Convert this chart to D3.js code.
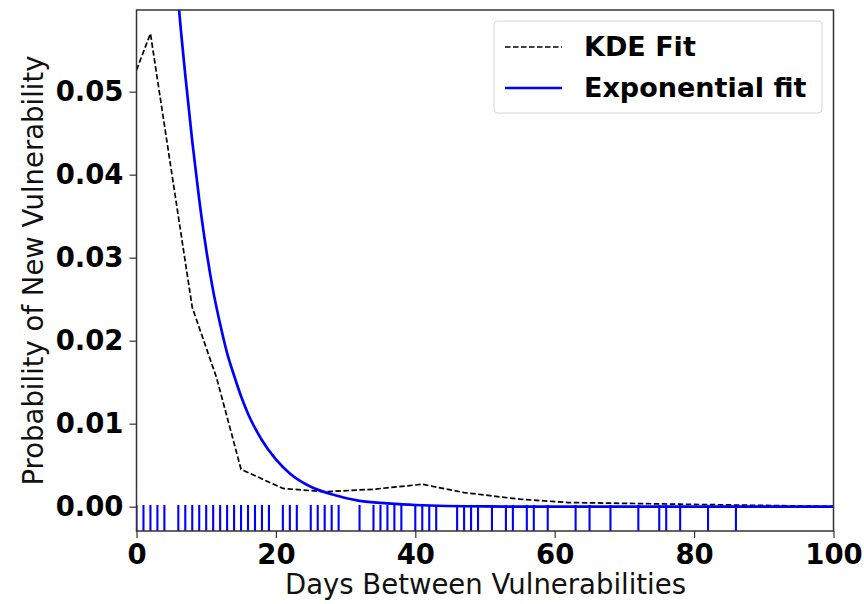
<!DOCTYPE html>
<html>
<head>
<meta charset="utf-8">
<script src="https://cdn.jsdelivr.net/npm/d3@7"></script>
<style>
  html, body { margin: 0; padding: 0; background: #fff; }
  svg { display: block; }
  text { font-family: "DejaVu Sans", sans-serif; }
</style>
</head>
<body>
<svg id="chart" width="864" height="604"></svg>
<script>
// ---- data ----
const rugDays = [0,1,2,3,4,6,7,8,9,10,11,12,13,14,15,16,17,18,19,21,22,23,25,26,27,28,29,32,34,35,36,37,38,40,41,42,43,46,47,48,49,51,53,54,56,57,59,63,65,68,72,75,76,78,82,86];

const kdeX = [0, 2, 8, 11.5, 15, 21, 27, 34, 41, 47, 55, 62, 70, 78, 86, 94, 100];
const kdeY = [0.0526, 0.0570, 0.0240, 0.0155, 0.0045, 0.0022, 0.0018, 0.0021, 0.0027, 0.0017, 0.0009, 0.0005, 0.0004, 0.0003, 0.0002, 0.0001, 0.00003];

const expX = [5, 6, 7, 8, 9, 10, 11, 12, 13, 14, 15, 16, 18, 20, 22, 25, 28, 32, 36, 40, 50, 60, 80, 100];
const expY = [0.073, 0.061, 0.052, 0.044, 0.037, 0.031, 0.026, 0.022, 0.0185, 0.0158, 0.0133, 0.0112, 0.0080, 0.0057, 0.0040, 0.0024, 0.0015, 0.0007, 0.0004, 0.0002, 0.00003, 0, 0, 0];

const xTicks = [0, 20, 40, 60, 80, 100];
const yTicks = [0.00, 0.01, 0.02, 0.03, 0.04, 0.05];

const xLabel = "Days Between Vulnerabilities";
const yLabel = "Probability of New Vulnerability";
const legendLabels = ["KDE Fit", "Exponential fit"];

// ---- layout ----
const svg = d3.select("#chart");
const L = 136.5, T = 10, R = 833.5, B = 531;
const x = d3.scaleLinear().domain([0, 100]).range([L, R]);
const y = d3.scaleLinear().domain([-0.00293, 0.05984]).range([B, T]);

svg.append("defs").append("clipPath").attr("id", "plotclip")
  .append("rect").attr("x", L).attr("y", T).attr("width", R - L).attr("height", B - T);

const plot = svg.append("g").attr("clip-path", "url(#plotclip)");

// rug
const rugH = (B - T) * 0.05;
plot.append("g").selectAll("line").data(rugDays).join("line")
  .attr("x1", d => x(d)).attr("x2", d => x(d))
  .attr("y1", B).attr("y2", B - rugH)
  .attr("stroke", "#0000ff").attr("stroke-width", 2.1);

// KDE
const kdeData = kdeX.map((v, i) => [v, kdeY[i]]);
plot.append("path").datum(kdeData)
  .attr("d", d3.line().x(d => x(d[0])).y(d => y(d[1])))
  .attr("fill", "none").attr("stroke", "#000").attr("stroke-width", 1.7)
  .attr("stroke-dasharray", "5.5,2.5");

// Exponential
const expData = expX.map((v, i) => [v, expY[i]]);
plot.append("path").datum(expData)
  .attr("d", d3.line().curve(d3.curveMonotoneX).x(d => x(d[0])).y(d => y(d[1])))
  .attr("fill", "none").attr("stroke", "#0000ff").attr("stroke-width", 2.7);

// axes
const axisColor = "#333";
const xAxis = svg.append("g").attr("transform", `translate(0,${B})`)
  .call(d3.axisBottom(x).tickValues(xTicks).tickFormat(d3.format("d")).tickSizeOuter(0).tickSize(7).tickPadding(6));
const yAxis = svg.append("g").attr("transform", `translate(${L},0)`)
  .call(d3.axisLeft(y).tickValues(yTicks).tickFormat(d3.format(".2f")).tickSizeOuter(0).tickSize(7).tickPadding(6));
[xAxis, yAxis].forEach(g => {
  g.select(".domain").remove();
  g.selectAll(".tick line").attr("stroke", axisColor).attr("stroke-width", 1.2);
  g.selectAll(".tick text").attr("fill", "#000")
    .style("font-family", "'DejaVu Sans', sans-serif")
    .style("font-size", "27.5px").style("font-weight", "bold");
});

// frame
svg.append("rect").attr("x", L).attr("y", T).attr("width", R - L).attr("height", B - T)
  .attr("fill", "none").attr("stroke", axisColor).attr("stroke-width", 1.5);

// axis labels
svg.append("text").attr("x", (L + R) / 2 + 0.5).attr("y", 594)
  .attr("text-anchor", "middle").style("font-size", "27.5px").attr("fill", "#111")
  .text(xLabel);
svg.append("text").attr("transform", `translate(43,${(T + B) / 2}) rotate(-90)`)
  .attr("text-anchor", "middle").style("font-size", "27.5px").attr("fill", "#111")
  .text(yLabel);

// legend
const lg = svg.append("g");
lg.append("rect").attr("x", 494).attr("y", 21).attr("width", 328).attr("height", 92)
  .attr("rx", 4).attr("fill", "#fff").attr("fill-opacity", 0.85)
  .attr("stroke", "#d6d6d6").attr("stroke-width", 1);
const legStyles = [
  {stroke: "#000", width: 1.7, dash: "5.5,2.5"},
  {stroke: "#0000ff", width: 2.7, dash: null}
];
legendLabels.forEach((lab, i) => {
  const cy = 47 + i * 41;
  lg.append("line").attr("x1", 505).attr("x2", 562).attr("y1", cy).attr("y2", cy)
    .attr("stroke", legStyles[i].stroke).attr("stroke-width", legStyles[i].width)
    .attr("stroke-dasharray", legStyles[i].dash);
  lg.append("text").attr("x", 584).attr("y", cy).attr("dy", "0.35em")
    .style("font-size", "27px").style("font-weight", "bold").attr("fill", "#000")
    .text(lab);
});
</script>
</body>
</html>
